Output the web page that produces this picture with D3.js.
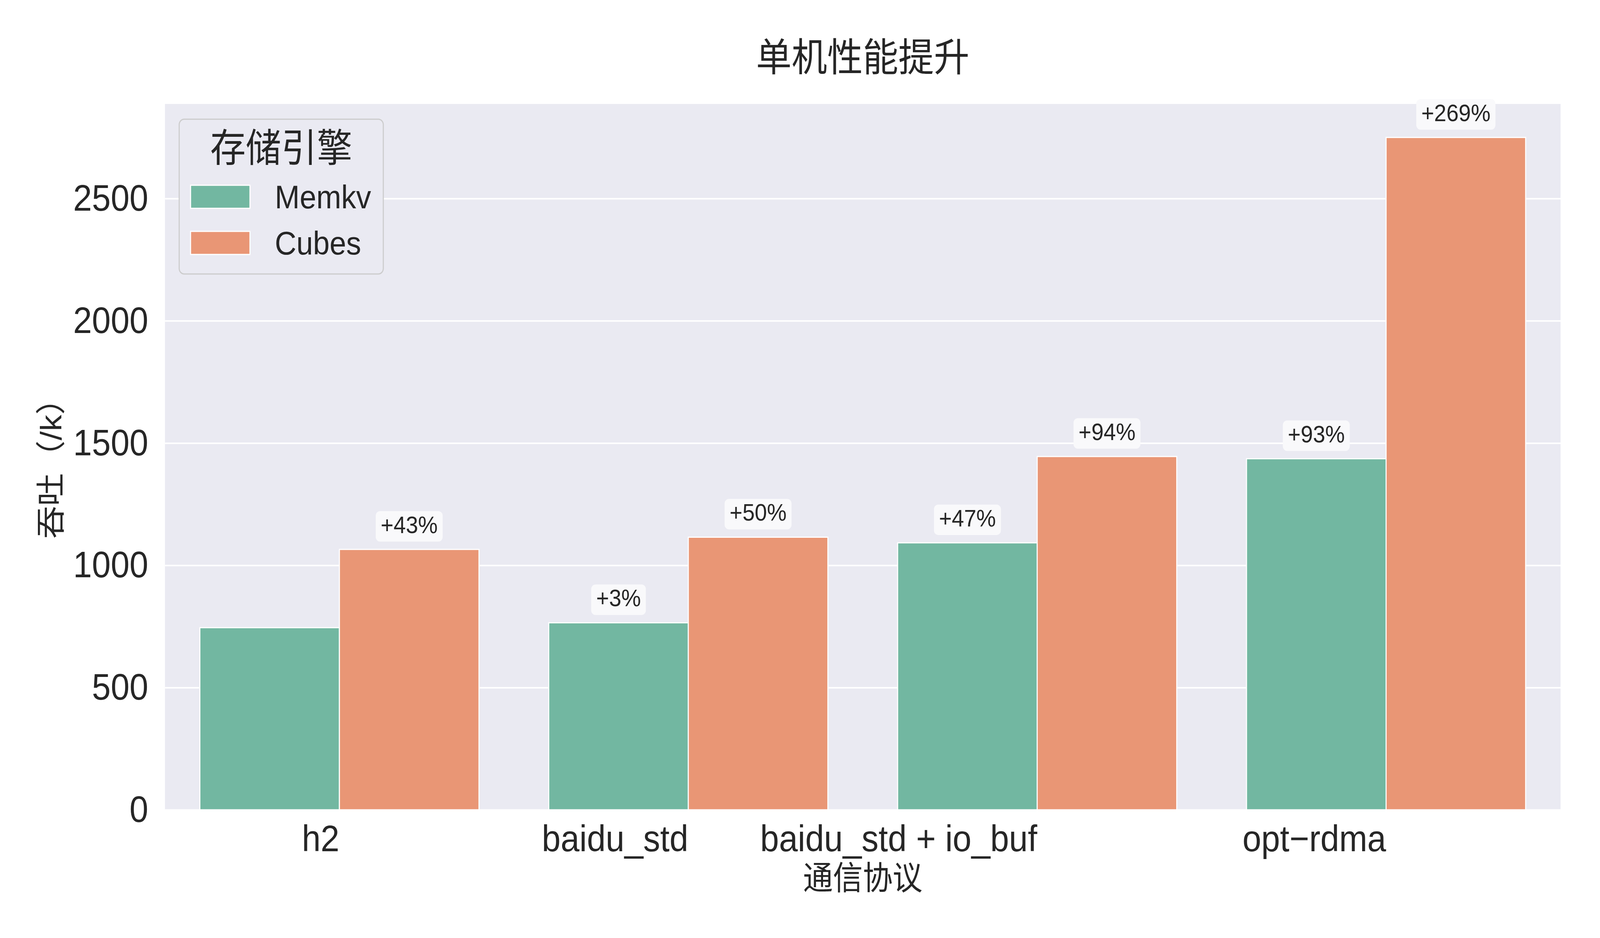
<!DOCTYPE html>
<html>
  <head>
    <meta charset='utf-8'>
    <title></title>
    <script src='https://d3js.org/d3.v7.min.js'></script>
    <style>
      html, body { margin: 0; padding: 0; background: #fff; overflow: hidden; }
      svg { display: block; width: 100vw; height: 100vh; }
      text { font-family: 'Liberation Sans', 'Noto Sans CJK SC', sans-serif; fill: #262626; }
      .axis path { display: none; }
      .axis text { font-size: 95px; }
      .grid path { display: none; }
      .grid line { stroke: #fff; stroke-width: 4px; }
    </style>
  </head>
  <body>
  <script type='text/javascript'>

    // data
    var categories = ['h2', 'baidu_std', 'baidu_std + io_buf', 'opt\u2212rdma'];
    var series = ['Memkv', 'Cubes'];
    var memkv = [745, 765, 1092, 1436];
    var cubes = [1065, 1115, 1445, 2750];
    var memkvLabels = ['', '+3%', '+47%', '+93%'];
    var cubesLabels = ['+43%', '+50%', '+94%', '+269%'];
    var yTicks = [0, 500, 1000, 1500, 2000, 2500];

    var colors = ['#72b7a1', '#e99675'];

    var width = 4500;
    var height = 2400;
    // plot area (window.top is reserved, so use a margin object)
    var plot = {left: 464, right: 4389, top: 266, bottom: 2072};

    // viewBox stretched over the viewport so the figure fills the whole shot
    var svg = d3.select('body')
              .append('svg')
              .attr('viewBox', '0 0 ' + width + ' ' + height)
              .attr('preserveAspectRatio', 'none')
              .style('background', 'white');

    var x = d3.scaleBand()
              .domain(categories)
              .range([plot.left, plot.right])
              .padding(0);

    var xSub = d3.scaleBand()
              .domain(series)
              .range([x.bandwidth() * 0.1, x.bandwidth() * 0.9]);

    var y = d3.scaleLinear()
              .domain([0, 2887])
              .range([plot.bottom, plot.top]);

    var color = d3.scaleOrdinal().domain(series).range(colors);

    // plot background
    svg.append('rect')
      .attr('x', plot.left)
      .attr('y', plot.top)
      .attr('width', plot.right - plot.left)
      .attr('height', plot.bottom - plot.top)
      .style('fill', '#eaeaf2');

    // grid
    svg.append('g')
      .attr('class', 'grid')
      .attr('transform', 'translate(' + plot.left + ',0)')
      .call(d3.axisLeft(y).tickValues(yTicks).tickSize(-(plot.right - plot.left)).tickFormat(''));

    // bars
    var rows = categories.map(function(c, i) {
      return { cat: c, vals: [
        { key: 'Memkv', value: memkv[i], label: memkvLabels[i] },
        { key: 'Cubes', value: cubes[i], label: cubesLabels[i] }
      ]};
    });

    var groups = svg.selectAll('.cat')
      .data(rows)
      .enter().append('g')
      .attr('class', 'cat')
      .attr('transform', function(d) { return 'translate(' + x(d.cat) + ',0)'; });

    groups.selectAll('rect')
      .data(function(d) { return d.vals; })
      .enter().append('rect')
      .attr('x', function(d) { return xSub(d.key); })
      .attr('y', function(d) { return y(d.value); })
      .attr('width', xSub.bandwidth())
      .attr('height', function(d) { return y(0) - y(d.value); })
      .style('fill', function(d) { return color(d.key); })
      .style('stroke', '#fff')
      .style('stroke-width', 3);

    // percentage labels with rounded boxes
    var ann = groups.selectAll('.ann')
      .data(function(d) { return d.vals.filter(function(v) { return v.label; }); })
      .enter().append('g')
      .attr('class', 'ann')
      .attr('transform', function(d) {
        return 'translate(' + (xSub(d.key) + xSub.bandwidth() / 2) + ',' + (y(d.value) - 42) + ')';
      });

    ann.append('rect')
      .style('fill', '#f9f9fb')
      .attr('rx', 12);

    ann.append('text')
      .attr('text-anchor', 'middle')
      .style('font-size', '62px')
      .text(function(d) { return d.label; });

    ann.each(function() {
      var g = d3.select(this);
      var w = g.select('text').node().getBBox().width;
      g.select('rect')
        .attr('x', -w / 2 - 14)
        .attr('y', -56)
        .attr('width', w + 28)
        .attr('height', 78);
    });

    // y axis
    svg.append('g')
      .attr('class', 'axis')
      .attr('transform', 'translate(' + plot.left + ',0)')
      .call(d3.axisLeft(y).tickValues(yTicks).tickSize(0).tickPadding(47).tickFormat(d3.format('d')));

    // x axis
    var xAxis = svg.append('g')
      .attr('class', 'axis')
      .attr('transform', 'translate(0,' + plot.bottom + ')')
      .call(d3.axisBottom(x).tickSize(0));

    xAxis.selectAll('text')
      .attr('text-anchor', 'end')
      .attr('dy', null)
      .attr('y', 106);

    // titles
    svg.append('text')
      .attr('x', (plot.left + plot.right) / 2)
      .attr('y', 182)
      .attr('text-anchor', 'middle')
      .style('font-size', '100px')
      .text('单机性能提升');

    svg.append('text')
      .attr('x', (plot.left + plot.right) / 2)
      .attr('y', 2276)
      .attr('text-anchor', 'middle')
      .style('font-size', '84px')
      .text('通信协议');

    svg.append('text')
      .attr('transform', 'translate(172,1178) rotate(-90)')
      .attr('text-anchor', 'middle')
      .style('font-size', '84px')
      .text('吞吐（/k）');

    // legend
    var legend = svg.append('g').attr('class', 'legend');

    legend.append('rect')
      .attr('x', 504)
      .attr('y', 305)
      .attr('width', 574)
      .attr('height', 396)
      .attr('rx', 14)
      .style('fill', '#eaeaf2')
      .style('stroke', '#cccccc')
      .style('stroke-width', 3);

    legend.append('text')
      .attr('x', 791)
      .attr('y', 414)
      .attr('text-anchor', 'middle')
      .style('font-size', '100px')
      .text('存储引擎');

    var items = legend.selectAll('.item')
      .data(series)
      .enter().append('g')
      .attr('class', 'item')
      .attr('transform', function(d, i) { return 'translate(536,' + (474 + i * 118) + ')'; });

    items.append('rect')
      .attr('width', 167)
      .attr('height', 59)
      .style('fill', function(d) { return color(d); })
      .style('stroke', '#fff')
      .style('stroke-width', 3);

    items.append('text')
      .attr('x', 237)
      .attr('y', 59)
      .style('font-size', '84px')
      .text(function(d) { return d; });

  </script>
  </body>
</html>
